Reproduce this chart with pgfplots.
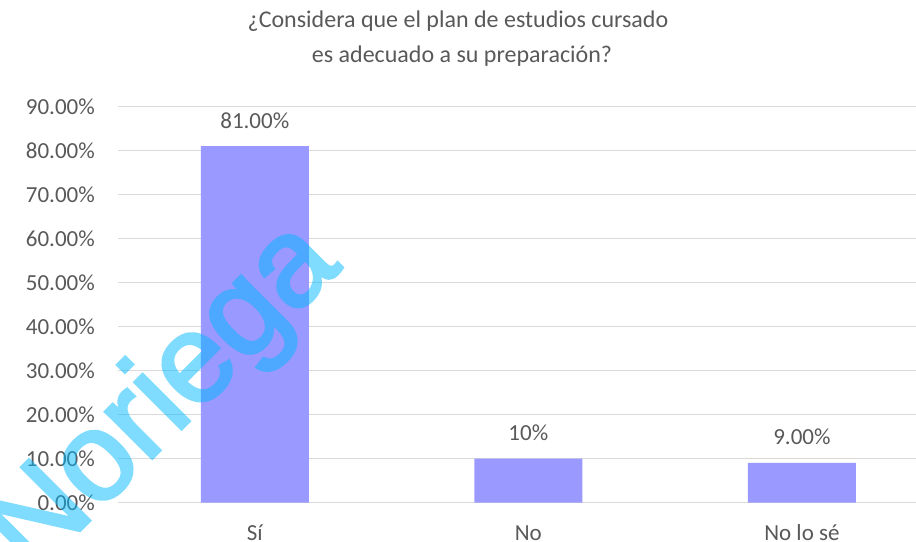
\documentclass[border=0pt]{standalone}
\usepackage{pgfplots}
\pgfplotsset{compat=1.18}
\usepackage{fontspec}
\setmainfont{Carlito}
\newfontfamily\wmfont[FakeBold=2.5]{Liberation Sans}
\definecolor{txt}{RGB}{89,89,89}
\definecolor{barc}{RGB}{153,153,255}
\definecolor{grd}{RGB}{217,217,217}
\definecolor{wm}{RGB}{0,185,255}
\begin{document}
\begin{tikzpicture}
\useasboundingbox (-118bp,-39.5bp) rectangle (798bp,502.5bp);
\begin{axis}[
    at={(0,0)}, anchor=south west,
    scale only axis,
    width=798bp, height=396bp,
    xmin=-0.5, xmax=2.417,
    ymin=0, ymax=90,
    axis x line=bottom, axis y line=left,
    x axis line style={draw=grd, line width=1bp, -},
    y axis line style={draw=none},
    major tick length=0pt,
    xtick={0,1,2},
    xticklabels={Sí, No, No lo sé},
    ytick={0,10,...,90},
    ymajorgrids=true,
    grid style={draw=grd, line width=1bp},
    /pgf/number format/assume math mode=true,
    yticklabel={\pgfmathprintnumber[fixed, fixed zerofill, precision=2]{\tick}\%},
    yticklabel style={anchor=east, inner sep=0pt, xshift=-23bp},
    xticklabel style={anchor=base, inner sep=0pt, yshift=-38bp},
    ticklabel style={font=\fontsize{23bp}{26bp}\selectfont, text=txt},
    clip=false,
]
\addplot[ybar, bar width=108bp, fill=barc, draw=none,
    nodes near coords, point meta=explicit symbolic,
    nodes near coords style={anchor=base, inner sep=0pt, yshift=18bp,
        font=\fontsize{23bp}{26bp}\selectfont, text=txt}]
    coordinates {(0,81) [81.00\%] (1,10) [10\%] (2,9) [9.00\%]};
\end{axis}
\node[anchor=base, inner sep=0pt, text=txt, font=\fontsize{24bp}{27bp}\selectfont]
    at (340bp,475bp) {¿Considera que el plan de estudios cursado};
\node[anchor=base, inner sep=0pt, text=txt, font=\fontsize{24bp}{27bp}\selectfont]
    at (344bp,440bp) {es adecuado a su preparación?};
% watermark
\begin{scope}[transparency group, opacity=0.5]
\node[anchor=base, inner sep=0pt, rotate=45, text=wm,
    font=\wmfont\fontsize{125bp}{130bp}\selectfont]
    at (70bp,80bp) {Noriega};
\end{scope}
\end{tikzpicture}
\end{document}
